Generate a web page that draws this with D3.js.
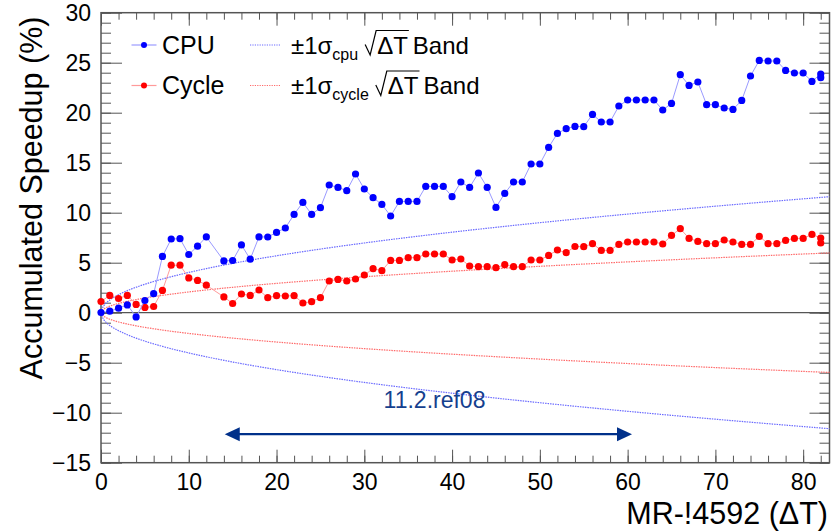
<!DOCTYPE html>
<html>
<head>
<meta charset="utf-8">
<script src="https://cdn.jsdelivr.net/npm/d3@7"></script>
<style>
  body { margin: 0; background: #fff; }
  text { font-family: 'Liberation Sans', Arial, Helvetica, sans-serif; }
</style>
</head>
<body>
<svg></svg>
<script>
// x = Delta T (merge requests), 13 is missing, 82 shows up twice
let deltaT = [0, 1, 2, 3, 4, 5, 6, 7, 8, 9, 10, 11, 12, 14, 15, 16, 17, 18, 19, 20,
  21, 22, 23, 24, 25, 26, 27, 28, 29, 30, 31, 32, 33, 34, 35, 36, 37, 38, 39, 40,
  41, 42, 43, 44, 45, 46, 47, 48, 49, 50, 51, 52, 53, 54, 55, 56, 57, 58, 59, 60,
  61, 62, 63, 64, 65, 66, 67, 68, 69, 70, 71, 72, 73, 74, 75, 76, 77, 78, 79, 80,
  81, 82, 82]

let cpuValues = [0.02, 0.15, 0.45, 0.78, -0.42, 1.22, 1.9, 5.63, 7.37, 7.4, 5.82, 6.65, 7.58,
  5.18, 5.22, 6.78, 5.35, 7.58, 7.57, 8.03, 8.47, 9.83, 11.03, 9.83, 10.5, 12.77, 12.53,
  12.2, 13.87, 12.37, 11.5, 10.83, 9.67, 11.13, 11.13, 11.13, 12.63, 12.63, 12.63, 11.6,
  13.07, 12.53, 13.97, 12.53, 10.53, 11.93, 13.07, 13.07, 14.87, 14.87, 16.53, 17.93,
  18.4, 18.63, 18.6, 19.83, 19.07, 19.07, 20.67, 21.27, 21.27, 21.27, 21.27, 20.27,
  20.93, 23.8, 22.73, 23.07, 20.8, 20.8, 20.47, 20.33, 21.23, 23.67, 25.23, 25.17,
  25.17, 24.23, 23.97, 23.97, 23.13, 23.87, 23.5]

let cycleValues = [1.12, 1.73, 1.42, 1.73, 0.83, 0.53, 0.62, 2.23, 4.75, 4.75, 3.48, 3.23, 2.75,
  1.58, 0.92, 1.87, 1.73, 2.27, 1.5, 1.7, 1.67, 1.7, 0.97, 1.1, 1.5, 3.17, 3.33,
  3.17, 3.37, 3.77, 4.4, 4.2, 5.23, 5.23, 5.5, 5.5, 5.87, 5.87, 5.87, 5.27,
  5.37, 4.67, 4.6, 4.6, 4.5, 4.8, 4.6, 4.6, 5.27, 5.27, 5.73, 6.27,
  6.0, 6.62, 6.6, 6.9, 6.23, 6.23, 6.83, 7.07, 7.07, 7.07, 7.07, 6.87,
  7.73, 8.4, 7.43, 7.13, 6.9, 6.9, 7.27, 7.07, 6.83, 6.83, 7.63, 6.9,
  6.9, 7.23, 7.43, 7.43, 7.83, 7.47, 6.97]

// band widths: +-sigma * sqrt(deltaT)
let sigmaCpu = 1.273
let sigmaCycle = 0.656

let xTicks = [0, 10, 20, 30, 40, 50, 60, 70, 80]
let yTicks = [-15, -10, -5, 0, 5, 10, 15, 20, 25, 30]

let refLabel = '11.2.ref08'
let refRange = [14.1, 60.5]

let width = 836
let height = 532
let plotLeft = 101, plotRight = 829.5, plotTop = 12.7, plotBottom = 462.7

let cpuColor = '#0000ff'
let cycleColor = '#ff0000'

let svg = d3.select('svg')
  .attr('width', width)
  .attr('height', height)

let xScale = d3.scaleLinear().domain([0, 83]).range([plotLeft, plotRight])
let yScale = d3.scaleLinear().domain([-15, 30]).range([plotBottom, plotTop])

// ---- axes (ROOT style: ticks pointing inward on all four sides)
let styleAxis = (g) => {
  g.select('.domain').remove()
  g.selectAll('.tick line').attr('stroke', '#555').attr('stroke-width', 1)
  g.selectAll('text').style('font-size', '23px').attr('fill', '#000')
}

let xMinor = d3.range(0, 83, 2)
let yMinor = d3.range(-15, 31, 1)

svg.append('g')
  .attr('transform', 'translate(0,' + plotBottom + ')')
  .call(d3.axisBottom(xScale).tickValues(xMinor).tickSize(-7).tickFormat(''))
  .call(styleAxis)
svg.append('g')
  .attr('transform', 'translate(0,' + plotBottom + ')')
  .call(d3.axisBottom(xScale).tickValues(xTicks).tickSize(-13).tickPadding(11).tickFormat(d3.format('d')))
  .call(styleAxis)
svg.append('g')
  .attr('transform', 'translate(0,' + plotTop + ')')
  .call(d3.axisTop(xScale).tickValues(xMinor).tickSize(-7).tickFormat(''))
  .call(styleAxis)
svg.append('g')
  .attr('transform', 'translate(0,' + plotTop + ')')
  .call(d3.axisTop(xScale).tickValues(xTicks).tickSize(-13).tickFormat(''))
  .call(styleAxis)

svg.append('g')
  .attr('transform', 'translate(' + plotLeft + ',0)')
  .call(d3.axisLeft(yScale).tickValues(yMinor).tickSize(-10).tickFormat(''))
  .call(styleAxis)
svg.append('g')
  .attr('transform', 'translate(' + plotLeft + ',0)')
  .call(d3.axisLeft(yScale).tickValues(yTicks).tickSize(-21).tickPadding(10).tickFormat(d3.format('d')))
  .call(styleAxis)
svg.append('g')
  .attr('transform', 'translate(' + plotRight + ',0)')
  .call(d3.axisRight(yScale).tickValues(yMinor).tickSize(-10).tickFormat(''))
  .call(styleAxis)
svg.append('g')
  .attr('transform', 'translate(' + plotRight + ',0)')
  .call(d3.axisRight(yScale).tickValues(yTicks).tickSize(-20).tickFormat(''))
  .call(styleAxis)

// frame + zero line
svg.append('rect')
  .attr('x', plotLeft).attr('y', plotTop)
  .attr('width', plotRight - plotLeft).attr('height', plotBottom - plotTop)
  .attr('fill', 'none').attr('stroke', '#555').attr('stroke-width', 1.5)
svg.append('line')
  .attr('x1', plotLeft).attr('x2', plotRight)
  .attr('y1', yScale(0)).attr('y2', yScale(0))
  .attr('stroke', '#555').attr('stroke-width', 1.2)

// ---- sqrt bands
let bandX = d3.range(0, 83.001, 0.25)
let bandLine = d3.line().x(d => xScale(d[0])).y(d => yScale(d[1]))

let drawBand = (sigma, color) => {
  [1, -1].forEach(sign => {
    svg.append('path')
      .datum(bandX.map(x => [x, sign * sigma * Math.sqrt(x)]))
      .attr('d', bandLine)
      .attr('fill', 'none')
      .attr('stroke', color)
      .attr('stroke-width', 1.2)
      .attr('stroke-dasharray', '1.5,1')
  })
}
drawBand(sigmaCycle, '#ff6a6a')
drawBand(sigmaCpu, '#6a6aff')

// ---- data series
let drawSeries = (values, lineColor, color) => {
  let points = deltaT.map((x, i) => [x, values[i]])
  svg.append('path')
    .datum(points)
    .attr('d', d3.line().x(d => xScale(d[0])).y(d => yScale(d[1])))
    .attr('fill', 'none')
    .attr('stroke', lineColor)
    .attr('stroke-width', 1)
  svg.append('g')
    .selectAll('circle')
    .data(points)
    .enter()
    .append('circle')
    .attr('cx', d => xScale(d[0]))
    .attr('cy', d => yScale(d[1]))
    .attr('r', 3.6)
    .attr('fill', color)
}
drawSeries(cycleValues, '#ff9a9a', cycleColor)
drawSeries(cpuValues, '#9a9aff', cpuColor)

// ---- reference range arrow
let arrowColor = '#00308a'
let ay = yScale(-12.15)
let ax1 = xScale(refRange[0])
let ax2 = xScale(refRange[1])
svg.append('line')
  .attr('x1', ax1 + 10).attr('x2', ax2 - 10)
  .attr('y1', ay).attr('y2', ay)
  .attr('stroke', arrowColor).attr('stroke-width', 2.2)
svg.append('path')
  .attr('d', 'M' + ax1 + ',' + ay + 'L' + (ax1 + 15) + ',' + (ay - 7) + 'L' + (ax1 + 15) + ',' + (ay + 7) + 'Z')
  .attr('fill', arrowColor)
svg.append('path')
  .attr('d', 'M' + ax2 + ',' + ay + 'L' + (ax2 - 15) + ',' + (ay - 7) + 'L' + (ax2 - 15) + ',' + (ay + 7) + 'Z')
  .attr('fill', arrowColor)
svg.append('text')
  .attr('x', xScale(38))
  .attr('y', yScale(-9.57))
  .attr('text-anchor', 'middle')
  .style('font-size', '23px')
  .attr('fill', '#15408e')
  .text(refLabel)

// ---- axis titles
svg.append('text')
  .attr('transform', 'rotate(-90)')
  .attr('x', -198)
  .attr('y', 42)
  .attr('text-anchor', 'middle')
  .style('font-size', '30.5px')
  .text('Accumulated Speedup (%)')

svg.append('text')
  .attr('x', 828)
  .attr('y', 524)
  .attr('text-anchor', 'end')
  .style('font-size', '30.5px')
  .text('MR-!4592 (ΔT)')

// ---- legend
let legend = svg.append('g')
let rows = [
  { name: 'CPU', sub: 'cpu', color: cpuColor, line: '#9a9aff', band: '#6a6aff', y: 45 },
  { name: 'Cycle', sub: 'cycle', color: cycleColor, line: '#ff9a9a', band: '#ff6a6a', y: 85.5 }
]

rows.forEach(r => {
  legend.append('line')
    .attr('x1', 131.5).attr('x2', 156.5)
    .attr('y1', r.y).attr('y2', r.y)
    .attr('stroke', r.line).attr('stroke-width', 1.2)
  legend.append('circle')
    .attr('cx', 144).attr('cy', r.y).attr('r', 3)
    .attr('fill', r.color)
  legend.append('text')
    .attr('x', 162).attr('y', r.y + 8.5)
    .style('font-size', '25px')
    .text(r.name)

  legend.append('line')
    .attr('x1', 250).attr('x2', 281)
    .attr('y1', r.y).attr('y2', r.y)
    .attr('stroke', r.band).attr('stroke-width', 1.2)
    .attr('stroke-dasharray', '1.2,1.2')

  let base = r.y + 8.5
  let t1 = legend.append('text')
    .attr('x', 291).attr('y', base)
    .style('font-size', '24px')
    .text('±1σ')
  let cx = 291 + t1.node().getComputedTextLength()
  let t2 = legend.append('text')
    .attr('x', cx).attr('y', base + 6)
    .style('font-size', '16px')
    .text(r.sub)
  cx += t2.node().getComputedTextLength() + 7
  let t3 = legend.append('text')
    .attr('x', cx + 12).attr('y', base)
    .style('font-size', '24px')
    .text('ΔT')
  let end = cx + 12 + t3.node().getComputedTextLength()
  legend.append('path')
    .attr('d', 'M' + cx + ',' + (base - 9) + 'L' + (cx + 5) + ',' + (base + 1.5) +
      'L' + (cx + 11) + ',' + (base - 23) + 'L' + (end + 1) + ',' + (base - 23))
    .attr('fill', 'none').attr('stroke', '#000').attr('stroke-width', 1.2)
  legend.append('text')
    .attr('x', end + 5).attr('y', base)
    .style('font-size', '24px')
    .text('Band')
})
</script>
</body>
</html>
